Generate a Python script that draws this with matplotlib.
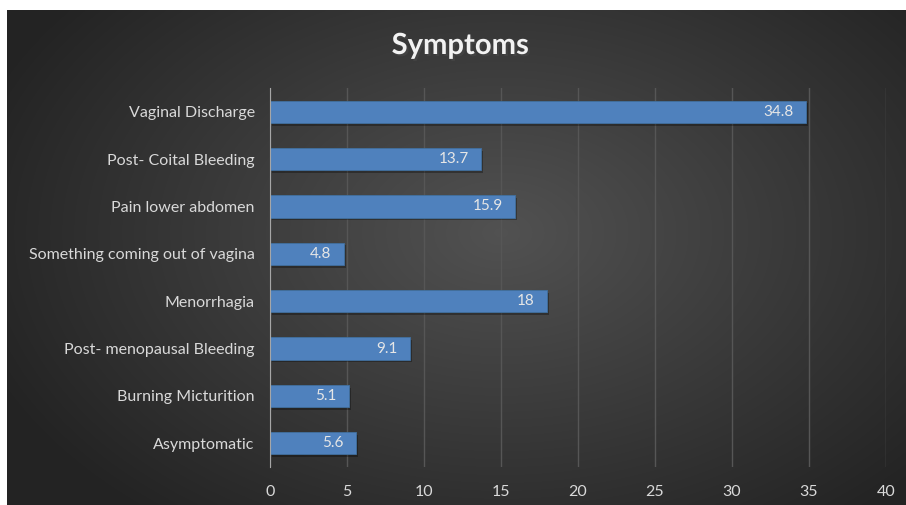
import numpy as np
import matplotlib.pyplot as plt
import matplotlib.patheffects as pe

# data, top to bottom as in the chart
symptoms = ['Vaginal Discharge', 'Post- Coital Bleeding', 'Pain lower abdomen',
            'Something coming out of vagina', 'Menorrhagia',
            'Post- menopausal Bleeding', 'Burning Micturition', 'Asymptomatic']
values = [34.8, 13.7, 15.9, 4.8, 18, 9.1, 5.1, 5.6]
xticks = [0, 5, 10, 15, 20, 25, 30, 35, 40]

plt.rcParams['font.family'] = ['Lato', 'DejaVu Sans']

fig = plt.figure(figsize=(9.06, 5.05), dpi=100)
fig.patch.set_facecolor('white')

# dark radial gradient panel
bg = fig.add_axes([7/906, 0, 899/906, 495/505])
yy, xx = np.mgrid[0:1:300j, 0:1:500j]
r = np.sqrt(((xx - 0.55) / 0.75) ** 2 + ((yy - 0.45) / 0.9) ** 2)
shade = np.clip(0.32 - 0.22 * r, 0.14, 0.32)
bg.imshow(np.dstack([shade] * 3), aspect='auto', extent=[0, 1, 0, 1], interpolation='bicubic')
bg.set_axis_off()

ax = fig.add_axes([270/906, 1 - 467/505, 616/906, 379/505])
ax.set_facecolor('none')
pos = np.arange(len(symptoms))
bars = ax.barh(pos, values, height=0.47, color='#4F81BD', edgecolor='#41709f', linewidth=0.6, zorder=3)
for b in bars:
    b.set_path_effects([pe.SimplePatchShadow(offset=(1.5, -2), shadow_rgbFace='black', alpha=0.3), pe.Normal()])

for p, v in zip(pos, values):
    ax.text(v - 0.8, p, f'{v:g}', ha='right', va='center', color='#e6e6e6', fontsize=11, zorder=4)

ax.set_xlim(0, 40)
ax.set_ylim(len(symptoms) - 0.5, -0.5)
ax.set_xticks(xticks)
ax.set_yticks(pos)
ax.set_yticklabels(symptoms)
ax.tick_params(axis='both', length=0, colors='#d9d9d9', labelsize=11.5)
ax.tick_params(axis='x', pad=13)
ax.tick_params(axis='y', pad=11)
ax.xaxis.grid(True, color='#565656', linewidth=1, zorder=0)
for s in ['top', 'right', 'bottom']:
    ax.spines[s].set_visible(False)
ax.spines['left'].set_color('#a6a6a6')
ax.spines['left'].set_zorder(5)

fig.text(460/906, 1 - 46/505, 'Symptoms', ha='center', va='center', fontsize=21,
         fontweight='bold', color='#f2f2f2',
         path_effects=[pe.withSimplePatchShadow(offset=(1.5, -1.5), alpha=0.6)])

fig.savefig('out.png', dpi=100, facecolor=fig.get_facecolor())
